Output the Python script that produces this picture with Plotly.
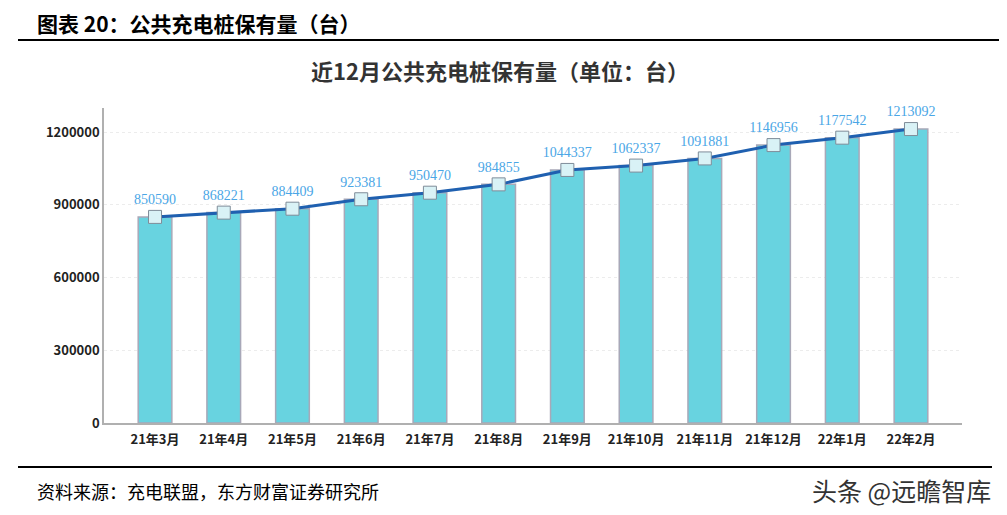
import plotly.graph_objects as go

months = ["21年3月", "21年4月", "21年5月", "21年6月", "21年7月", "21年8月",
          "21年9月", "21年10月", "21年11月", "21年12月", "22年1月", "22年2月"]
piles = [850590, 868221, 884409, 923381, 950470, 984855,
         1044337, 1062337, 1091881, 1146956, 1177542, 1213092]
y_ticks = [0, 300000, 600000, 900000, 1200000]

# page body has an 8px margin, so the figure is shrunk and everything shifted
OFF = 8
W, H = 1007 - OFF, 515 - OFF
L, R, T, B = 104 - OFF, 962 - OFF, 108 - OFF, 423 - OFF  # plot area in figure pixels


def px(x):
    return (x - OFF - L) / (R - L)


def py(y):
    return (B - (y - OFF)) / (B - T)


fig = go.Figure()

fig.add_trace(go.Bar(
    x=months, y=piles,
    width=0.49,
    marker=dict(color="#68d3e0", line=dict(color="#a8a8b8", width=1.5)),
    hoverinfo="skip",
    showlegend=False,
))

fig.add_trace(go.Scatter(
    x=months, y=piles,
    mode="lines+markers+text",
    line=dict(color="#1f60b0", width=3),
    marker=dict(symbol="square", size=13, color="#d9f2f6",
                line=dict(color="#7f8c99", width=1)),
    text=[str(v) for v in piles],
    textposition="top center",
    textfont=dict(family="Liberation Serif", size=14, color="#4aa6e6"),
    cliponaxis=False,
    showlegend=False,
))

fig.update_layout(
    width=W, height=H,
    margin=dict(l=L, r=W - R, t=T, b=H - B),
    paper_bgcolor="white",
    plot_bgcolor="white",
    font=dict(family="Noto Sans CJK SC", color="#222"),
    shapes=[
        dict(type="line", xref="paper", yref="paper",
             x0=px(18), x1=px(1007), y0=py(40), y1=py(40),
             line=dict(color="black", width=2)),
        dict(type="line", xref="paper", yref="paper",
             x0=px(18), x1=px(992), y0=py(467), y1=py(467),
             line=dict(color="black", width=2)),
    ],
    annotations=[
        dict(text="<b>图表 20：公共充电桩保有量（台）</b>", xref="paper", yref="paper",
             x=px(35), y=py(23), xanchor="left", yanchor="middle", showarrow=False,
             font=dict(size=21, color="black")),
        dict(text="<b>近12月公共充电桩保有量（单位：台）</b>", xref="paper", yref="paper",
             x=px(500), y=py(70), xanchor="center", yanchor="middle", showarrow=False,
             font=dict(size=22, color="#333")),
        dict(text="资料来源：充电联盟，东方财富证券研究所", xref="paper", yref="paper",
             x=px(35), y=py(491), xanchor="left", yanchor="middle", showarrow=False,
             font=dict(size=18, color="black")),
        dict(text="头条 @远瞻智库", xref="paper", yref="paper",
             x=px(993), y=py(490), xanchor="right", yanchor="middle", showarrow=False,
             font=dict(size=25, color="#333")),
    ],
)

fig.update_xaxes(
    showline=True, linecolor="#b0b0b0", linewidth=1.5,
    tickfont=dict(size=13, color="#222"),
    tickprefix="<b>", ticksuffix="</b>",
    ticklabelstandoff=4,
    showgrid=False, ticks="",
)
fig.update_yaxes(
    range=[0, 1300000],
    tickvals=y_ticks,
    ticktext=[f"<b>{v}</b>" for v in y_ticks],
    tickfont=dict(size=13, color="#222"),
    showline=True, linecolor="#b0b0b0", linewidth=1.5,
    showgrid=True, gridcolor="#ececec", griddash="dot",
    zeroline=False, ticks="",
)

fig.write_html("out.html")
